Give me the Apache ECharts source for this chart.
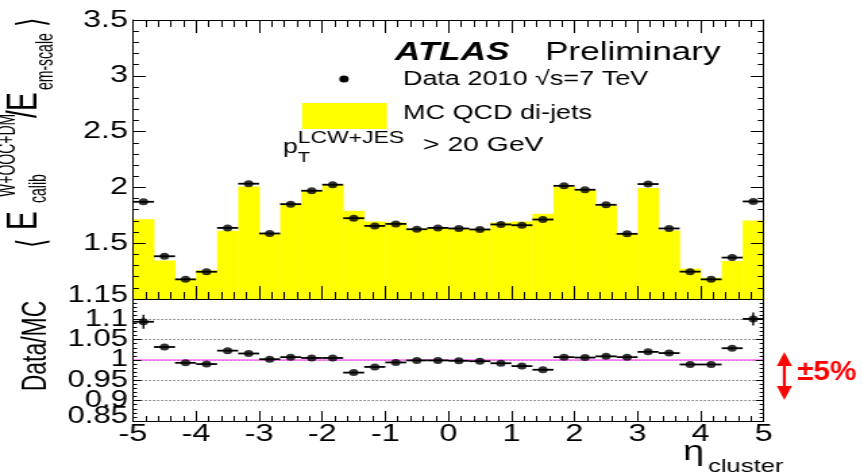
<!DOCTYPE html>
<html>
<head>
<meta charset="utf-8">
<script src="https://cdn.jsdelivr.net/npm/echarts@6/dist/echarts.min.js"></script>
<style>
  html, body { margin: 0; padding: 0; background: #fff; overflow: hidden; }
  #wrap { width: 862px; height: 472px; overflow: hidden; }
  /* the figure is laid out narrow and widened horizontally as a whole */
  #chart { width: 638.5px; height: 472px; transform: scaleX(1.35); transform-origin: 0 0; }
</style>
</head>
<body>
<div id="wrap"><div id="chart"></div></div>
<script>
// eta bin edges (30 bins)
const binEdges = [-5, -4.667, -4.333, -4, -3.667, -3.333, -3, -2.667, -2.333, -2, -1.667, -1.333, -1, -0.667, -0.333,
                  0, 0.333, 0.667, 1, 1.333, 1.667, 2, 2.333, 2.667, 3, 3.333, 3.667, 4, 4.333, 4.667, 5];

// MC QCD di-jets: mean calibrated / em-scale energy per bin
const mcMean = [1.715, 1.345, 1.182, 1.257, 1.611, 2.009, 1.587, 1.844, 1.967, 2.021,
                1.790, 1.694, 1.685, 1.631, 1.637, 1.632, 1.625, 1.686, 1.695, 1.763,
                2.005, 1.976, 1.835, 1.587, 1.994, 1.614, 1.272, 1.191, 1.341, 1.704];

// Data 2010
const dataMean = [1.871, 1.383, 1.176, 1.244, 1.637, 2.033, 1.587, 1.850, 1.970, 2.024,
                  1.724, 1.655, 1.673, 1.625, 1.637, 1.632, 1.623, 1.668, 1.661, 1.712,
                  2.014, 1.979, 1.844, 1.584, 2.030, 1.632, 1.245, 1.176, 1.371, 1.874];
const dataErr = [0.008, 0.002, 0.002, 0.002, 0.002, 0.002, 0.002, 0.002, 0.002, 0.002,
                 0.002, 0.002, 0.002, 0.002, 0.002, 0.002, 0.002, 0.002, 0.002, 0.002,
                 0.002, 0.002, 0.002, 0.002, 0.002, 0.002, 0.002, 0.002, 0.002, 0.008];

// Data / MC ratio
const ratio = [1.094, 1.032, 0.993, 0.990, 1.023, 1.016, 1.002, 1.007, 1.005, 1.005,
               0.969, 0.983, 0.994, 0.999, 0.999, 0.998, 0.997, 0.992, 0.985, 0.976,
               1.007, 1.006, 1.009, 1.007, 1.020, 1.017, 0.989, 0.989, 1.029, 1.101];
const ratioErr = [0.017, 0.002, 0.001, 0.001, 0.001, 0.001, 0.001, 0.001, 0.001, 0.001,
                  0.001, 0.001, 0.001, 0.001, 0.001, 0.001, 0.001, 0.001, 0.001, 0.001,
                  0.001, 0.001, 0.001, 0.001, 0.001, 0.001, 0.001, 0.001, 0.002, 0.016];

// ratio-axis tick labels, split into two interleaved sets so neighbouring labels never collide
const ratioLabelsA = ['1.15', '1.05', '0.95', '0.85'];
const ratioLabelsB = ['1.1', '1', '0.9'];

const FONT = 'Liberation Sans';

const mcRows = mcMean.map((v, i) => [binEdges[i], binEdges[i + 1], v]);
const centre = i => (binEdges[i] + binEdges[i + 1]) / 2;
const dataRows = dataMean.map((v, i) => [centre(i), v, dataErr[i], binEdges[i], binEdges[i + 1]]);
const ratioRows = ratio.map((v, i) => [centre(i), v, ratioErr[i], binEdges[i], binEdges[i + 1]]);

function histRender(params, api) {
  const p0 = api.coord([api.value(0), 1]);
  const p1 = api.coord([api.value(1), api.value(2)]);
  return {
    type: 'rect',
    shape: { x: p0[0], y: p1[1], width: p1[0] - p0[0] + 0.4, height: p0[1] - p1[1] },
    style: { fill: '#ffff00' }
  };
}

function errRender(params, api) {
  const c = api.value(0), v = api.value(1), e = api.value(2);
  const a = api.coord([api.value(3), v]), b = api.coord([api.value(4), v]);
  const t = api.coord([c, v + e]), u = api.coord([c, v - e]);
  return {
    type: 'group',
    children: [
      { type: 'line', shape: { x1: a[0], y1: a[1], x2: b[0], y2: b[1] }, style: { stroke: '#000', lineWidth: 1.8 } },
      { type: 'line', shape: { x1: t[0], y1: t[1], x2: u[0], y2: u[1] }, style: { stroke: '#000', lineWidth: 1.4 } }
    ]
  };
}

const black = { color: '#000', width: 1 };

function xAxisDef(grid, pos, labels, major, minor) {
  return {
    type: 'value', gridIndex: grid, position: pos, min: -5, max: 5, interval: 1, z: 3,
    axisLine: { show: true, onZero: false, lineStyle: black },
    axisTick: { show: true, inside: true, length: major, lineStyle: black },
    minorTick: { show: true, splitNumber: 5, length: minor, lineStyle: black },
    splitLine: { show: false },
    axisLabel: { show: labels, hideOverlap: false, showMinLabel: true, showMaxLabel: true, color: '#000', fontFamily: FONT, fontSize: 24, margin: 1 }
  };
}

function yAxisDef(grid, pos, min, max, step, major, minor, extra) {
  return Object.assign({
    type: 'value', gridIndex: grid, position: pos, min: min, max: max, interval: step, z: 3,
    axisLine: { show: true, onZero: false, lineStyle: black },
    axisTick: { show: true, inside: true, length: major, lineStyle: black },
    minorTick: { show: true, splitNumber: 5, length: minor, lineStyle: black },
    splitLine: { show: false },
    axisLabel: { show: false }
  }, extra || {});
}

// label formatter for one interleaved set of ratio labels
function ratioFormatter(set) {
  return v => {
    const s = String(+v.toFixed(2));
    if (set.indexOf(s) < 0) return '';
    if (s === '1.15') return '{hi|' + s + '}';
    if (s === '0.85') return '{lo|' + s + '}';
    return s;
  };
}

function ratioLabelAxis(set, withLines) {
  return yAxisDef(1, 'left', 0.85, 1.15, 0.05, 6, 3, {
    axisLine: { show: withLines, onZero: false, lineStyle: black },
    axisTick: { show: withLines, inside: true, length: 6, lineStyle: black },
    minorTick: { show: withLines, splitNumber: 5, length: 3, lineStyle: black },
    splitLine: { show: withLines, lineStyle: { color: '#555', width: 1, type: [1.2, 1.8] } },
    axisLabel: {
      show: true, hideOverlap: false, interval: 0, showMinLabel: true, showMaxLabel: true,
      color: '#000', fontFamily: FONT, fontSize: 23, margin: 3.7,
      formatter: ratioFormatter(set),
      rich: {
        hi: { fontFamily: FONT, fontSize: 23, color: '#000', padding: [0, 0, 6, 0] },
        lo: { fontFamily: FONT, fontSize: 23, color: '#000', padding: [0, 0, 9, 0] }
      }
    }
  });
}

const option = {
  animation: false,
  grid: [
    { left: 98.5, right: 73.3, top: 20, height: 279 },
    { left: 98.5, right: 73.3, top: 299, height: 122 }
  ],
  xAxis: [
    xAxisDef(0, 'bottom', false, 13, 7),
    xAxisDef(0, 'top', false, 13, 7),
    xAxisDef(1, 'bottom', true, 10, 5)
  ],
  yAxis: [
    yAxisDef(0, 'left', 1, 3.5, 0.5, 9.6, 4.4, {
      axisLabel: { show: true, hideOverlap: false, showMinLabel: false, showMaxLabel: true, color: '#000', fontFamily: FONT, fontSize: 24, margin: 3.7 }
    }),
    yAxisDef(0, 'right', 1, 3.5, 0.5, 9.6, 4.4),
    ratioLabelAxis(ratioLabelsA, true),
    yAxisDef(1, 'right', 0.85, 1.15, 0.05, 6, 3),
    ratioLabelAxis(ratioLabelsB, false)
  ],
  series: [
    {
      name: 'MC QCD di-jets', type: 'custom', xAxisIndex: 0, yAxisIndex: 0, z: 1,
      renderItem: histRender, encode: { x: [0, 1], y: 2 }, data: mcRows, clip: true
    },
    {
      name: 'Data 2010 errors', type: 'custom', xAxisIndex: 0, yAxisIndex: 0, z: 4,
      renderItem: errRender, encode: { x: 0, y: 1 }, data: dataRows
    },
    {
      name: 'Data 2010', type: 'scatter', xAxisIndex: 0, yAxisIndex: 0, z: 5,
      symbol: 'circle', symbolSize: 7, itemStyle: { color: '#000' },
      data: dataRows.map(r => [r[0], r[1]])
    },
    {
      name: 'Data/MC errors', type: 'custom', xAxisIndex: 2, yAxisIndex: 2, z: 4,
      renderItem: errRender, encode: { x: 0, y: 1 }, data: ratioRows
    },
    {
      name: 'Data/MC', type: 'scatter', xAxisIndex: 2, yAxisIndex: 2, z: 5,
      symbol: 'circle', symbolSize: 7, itemStyle: { color: '#000' },
      data: ratioRows.map(r => [r[0], r[1]]),
      markLine: {
        silent: true, symbol: 'none', label: { show: false }, z: 3,
        lineStyle: { color: '#ff6cff', width: 1.5, type: 'solid' },
        data: [{ yAxis: 1 }]
      }
    }
  ],
  graphic: [
    // ATLAS label
    { type: 'text', x: 292.6, y: 53, style: { text: 'ATLAS', fontFamily: FONT, fontSize: 26, fontWeight: 'bold', fontStyle: 'italic', fill: '#000', align: 'left', verticalAlign: 'middle' } },
    { type: 'text', x: 403.7, y: 53, style: { text: 'Preliminary', fontFamily: FONT, fontSize: 26, fill: '#000', align: 'left', verticalAlign: 'middle' } },
    // legend
    { type: 'circle', shape: { cx: 254.8, cy: 79, r: 3.5 }, style: { fill: '#000' } },
    { type: 'text', x: 298.5, y: 79.5, style: { text: 'Data 2010 \u221As=7 TeV', fontFamily: FONT, fontSize: 20, fill: '#000', align: 'left', verticalAlign: 'middle' } },
    { type: 'rect', shape: { x: 223.7, y: 103, width: 63, height: 26 }, style: { fill: '#ffff00' } },
    { type: 'text', x: 298.5, y: 113, style: { text: 'MC QCD di-jets', fontFamily: FONT, fontSize: 20, fill: '#000', align: 'left', verticalAlign: 'middle' } },
    { type: 'text', x: 209.6, y: 147, style: { text: 'p', fontFamily: FONT, fontSize: 20, fill: '#000', align: 'left', verticalAlign: 'middle' } },
    { type: 'text', x: 220.5, y: 138, style: { text: 'LCW+JES', fontFamily: FONT, fontSize: 17, fill: '#000', align: 'left', verticalAlign: 'middle' } },
    { type: 'text', x: 220.5, y: 158, style: { text: 'T', fontFamily: FONT, fontSize: 15, fill: '#000', align: 'left', verticalAlign: 'middle' } },
    { type: 'text', x: 313.3, y: 145, style: { text: '> 20 GeV', fontFamily: FONT, fontSize: 21, fill: '#000', align: 'left', verticalAlign: 'middle' } },
    // y title of upper panel
    {
      type: 'group', x: 0, y: 248, rotation: Math.PI / 2,
      children: [
        { type: 'text', x: 0, y: 26, scaleY: 1.2, style: { text: '\u27E8', fontFamily: 'DejaVu Sans', fontSize: 24, fill: '#000', align: 'left', verticalAlign: 'middle' } },
        { type: 'text', x: 18, y: 19, scaleY: 1.1, style: { text: 'E', fontFamily: FONT, fontSize: 28, fill: '#000', align: 'left', verticalAlign: 'middle' } },
        { type: 'text', x: 45, y: 29, scaleY: 1.3, style: { text: 'calib', fontFamily: FONT, fontSize: 14, fill: '#000', align: 'left', verticalAlign: 'middle' } },
        { type: 'text', x: 51, y: 6, scaleY: 1.3, style: { text: 'W+OOC+DM', fontFamily: FONT, fontSize: 14, fill: '#000', align: 'left', verticalAlign: 'middle' } },
        { type: 'text', x: 130, y: 19, scaleY: 1.1, style: { text: '/', fontFamily: FONT, fontSize: 28, fill: '#000', align: 'left', verticalAlign: 'middle' } },
        { type: 'text', x: 137, y: 19, scaleY: 1.1, style: { text: 'E', fontFamily: FONT, fontSize: 28, fill: '#000', align: 'left', verticalAlign: 'middle' } },
        { type: 'text', x: 158, y: 34, scaleY: 1.35, style: { text: 'em-scale', fontFamily: FONT, fontSize: 14, fill: '#000', align: 'left', verticalAlign: 'middle' } },
        { type: 'text', x: 221, y: 26, scaleY: 1.2, style: { text: '\u27E9', fontFamily: 'DejaVu Sans', fontSize: 24, fill: '#000', align: 'left', verticalAlign: 'middle' } }
      ]
    },
    // y title of ratio panel
    { type: 'text', x: 26.7, y: 346, rotation: Math.PI / 2, scaleY: 1.15, style: { text: 'Data/MC', fontFamily: FONT, fontSize: 23, fill: '#000', align: 'center', verticalAlign: 'middle' } },
    // x title
    { type: 'text', x: 506, y: 452, style: { text: '\u03B7', fontFamily: FONT, fontSize: 28, fill: '#000', align: 'left', verticalAlign: 'middle' } },
    { type: 'text', x: 524.4, y: 467, style: { text: 'cluster', fontFamily: FONT, fontSize: 19, fill: '#000', align: 'left', verticalAlign: 'middle' } },
    // +-5% band indicator
    {
      type: 'polygon',
      shape: { points: [[581, 352], [586.6, 366], [582.1, 366], [582.1, 386], [586.6, 386], [581, 400], [575.4, 386], [579.9, 386], [579.9, 366], [575.4, 366]] },
      style: { fill: '#ff0000' }
    },
    { type: 'text', x: 590.4, y: 372, scaleX: 0.79, style: { text: '\u00B15%', fontFamily: FONT, fontSize: 28, fontWeight: 'bold', fill: '#ff0000', align: 'left', verticalAlign: 'middle' } }
  ]
};

const chart = echarts.init(document.getElementById('chart'), null, { renderer: 'canvas' });
chart.setOption(option);
</script>
</body>
</html>
